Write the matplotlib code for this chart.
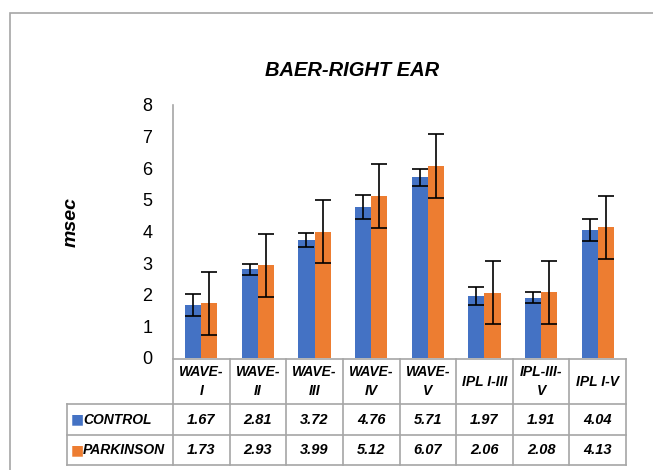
import matplotlib
matplotlib.use("Agg")
import matplotlib.pyplot as plt
from matplotlib.patches import Rectangle

# data
categories = ["WAVE-\nI", "WAVE-\nII", "WAVE-\nIII", "WAVE-\nIV", "WAVE-\nV",
              "IPL I-III", "IPL-III-\nV", "IPL I-V"]
control = [1.67, 2.81, 3.72, 4.76, 5.71, 1.97, 1.91, 4.04]
parkinson = [1.73, 2.93, 3.99, 5.12, 6.07, 2.06, 2.08, 4.13]
control_sd = [0.34, 0.17, 0.22, 0.38, 0.28, 0.28, 0.18, 0.34]
parkinson_sd = [1.0, 1.0, 1.0, 1.0, 1.0, 1.0, 1.0, 1.0]
series_names = ["CONTROL", "PARKINSON"]
yticks = [0, 1, 2, 3, 4, 5, 6, 7, 8]

blue = "#4472C4"
orange = "#ED7D31"
grid = "#A6A6A6"

plt.rcParams["font.family"] = ["Liberation Sans", "DejaVu Sans"]

fig = plt.figure(figsize=(6.53, 4.70), dpi=100)
AX_W, AX_H = 453, 253
ax = fig.add_axes([173 / 653, 112 / 470, AX_W / 653, AX_H / 470])

# chart frame (only left and top edges fall inside the picture)
fig.patches.append(Rectangle((10 / 653, -0.2), 1.5, (470 - 13) / 470 + 0.2,
                             transform=fig.transFigure, fill=False,
                             edgecolor=grid, linewidth=1.2))

n = len(categories)
x = list(range(n))
w = 0.285
ax.bar([i - w / 2 for i in x], control, w, color=blue, zorder=2)
ax.bar([i + w / 2 for i in x], parkinson, w, color=orange, zorder=2)
ax.errorbar([i - w / 2 for i in x], control, yerr=control_sd, fmt="none",
            ecolor="black", elinewidth=1.2, capsize=5.5, capthick=1.2, zorder=3)
ax.errorbar([i + w / 2 for i in x], parkinson, yerr=parkinson_sd, fmt="none",
            ecolor="black", elinewidth=1.2, capsize=5.5, capthick=1.2, zorder=3)

ax.set_xlim(-0.5, n - 0.5)
ax.set_ylim(0, 8)
ax.set_yticks(yticks)
ax.tick_params(axis="y", length=0, pad=15, labelsize=13)
ax.set_xticks([])
for s in ["top", "right", "bottom"]:
    ax.spines[s].set_visible(False)
ax.spines["left"].set_color(grid)
ax.spines["left"].set_linewidth(1.2)

ax.set_ylabel("msec", fontsize=14, fontweight="bold", fontstyle="italic")
ax.yaxis.set_label_coords(-0.205, 0.537)
fig.text(352 / 653, (470 - 70) / 470, "BAER-RIGHT EAR", ha="center", va="center",
         fontsize=14.5, fontweight="bold", fontstyle="italic")

# data table under the axis, laid out in pixels below the x axis
T = ax.transAxes
rows_px = [1, 46, 77, 107]          # horizontal rule offsets below axis
left_px = -106                       # left edge of row-label column


def ax_x(px):
    return px / AX_W


def ax_y(px):
    return -px / AX_H


line_kw = dict(color=grid, linewidth=1.2, transform=T, clip_on=False)
ax.plot([0, 1], [ax_y(rows_px[0])] * 2, **line_kw)
for r in rows_px[1:]:
    ax.plot([ax_x(left_px), 1], [ax_y(r)] * 2, **line_kw)
for c in range(n + 1):
    ax.plot([c / n, c / n], [ax_y(rows_px[0]), ax_y(rows_px[-1])], **line_kw)
ax.plot([ax_x(left_px)] * 2, [ax_y(rows_px[1]), ax_y(rows_px[-1])], **line_kw)

txt_kw = dict(transform=T, ha="center", va="center", fontweight="bold",
              fontstyle="italic", clip_on=False)
hy = ax_y((rows_px[0] + rows_px[1]) / 2)
for c, lab in enumerate(categories):
    ax.text((c + 0.5) / n, hy, lab, fontsize=10, linespacing=1.4, **txt_kw)

for k, (name, vals, col) in enumerate([(series_names[0], control, blue),
                                       (series_names[1], parkinson, orange)]):
    yc = ax_y((rows_px[k + 1] + rows_px[k + 2]) / 2)
    ax.text(ax_x(left_px + 4), yc, "\u25A0", color=col, fontsize=10,
            va="center", ha="left", transform=T, family="DejaVu Sans", clip_on=False)
    ax.text(ax_x(left_px + 16), yc, name, fontsize=10, transform=T, ha="left",
            va="center", fontweight="bold", fontstyle="italic", clip_on=False)
    for c, v in enumerate(vals):
        ax.text((c + 0.5) / n, yc, f"{v:.2f}", fontsize=10.5, **txt_kw)

fig.savefig("out.png", dpi=100)
